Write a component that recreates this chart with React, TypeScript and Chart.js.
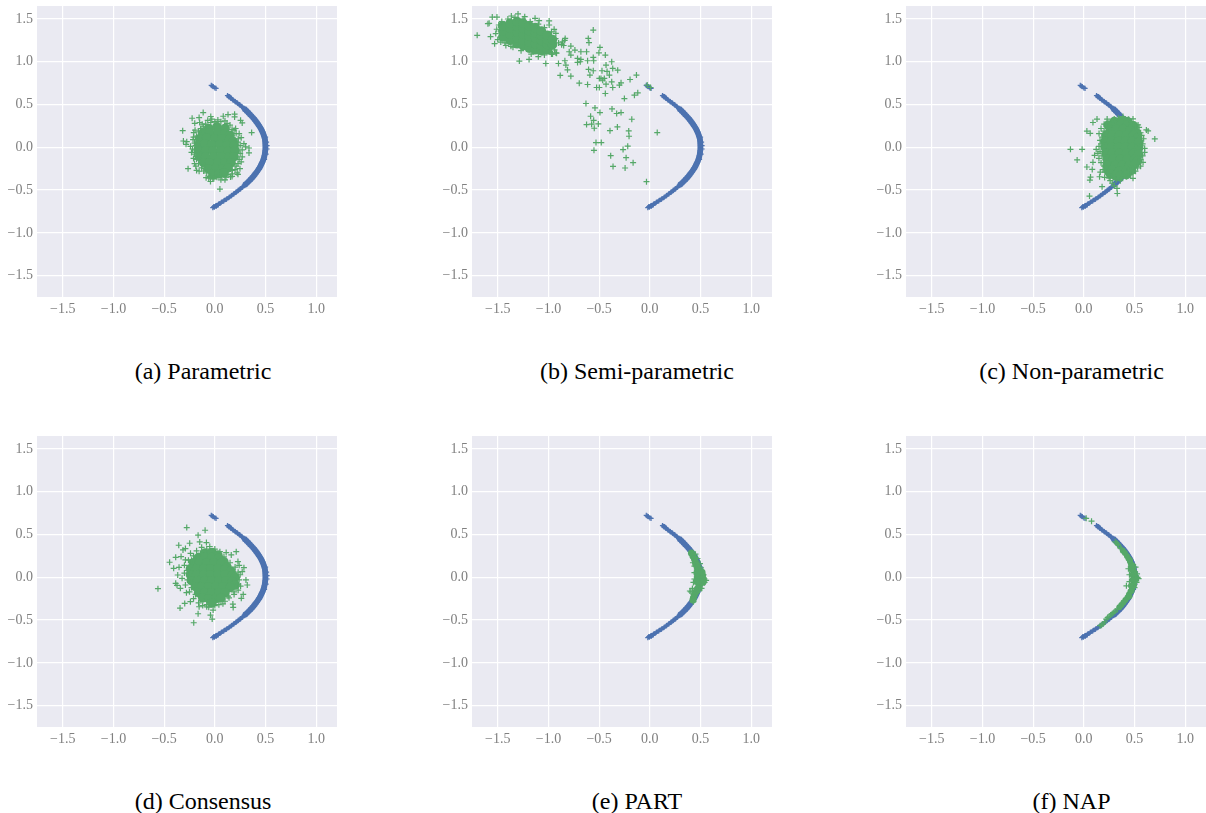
import React, { useEffect, useRef } from "react";
import { Chart, registerables } from "chart.js";

Chart.register(...registerables);

type P = [number, number];

const xTickValues = [-1.5, -1.0, -0.5, 0.0, 0.5, 1.0];
const yTickValues = [-1.5, -1.0, -0.5, 0.0, 0.5, 1.0, 1.5];

const arcBand: P[] = [
  [0.135,0.6],[0.15,0.585],[0.168,0.565],[0.19,0.545],[0.212,0.525],[0.235,0.505],[0.256,0.485],[0.276,0.465],[0.296,0.445],[0.314,0.425],
  [0.331,0.405],[0.347,0.385],[0.363,0.365],[0.378,0.345],[0.392,0.325],[0.405,0.305],[0.418,0.285],[0.43,0.265],[0.441,0.245],[0.451,0.225],
  [0.46,0.205],[0.468,0.185],[0.476,0.165],[0.482,0.145],[0.487,0.125],[0.492,0.105],[0.495,0.085],[0.497,0.065],[0.498,0.045],[0.499,0.025],
  [0.499,0.005],[0.499,-0.015],[0.498,-0.035],[0.496,-0.055],[0.493,-0.075],[0.49,-0.095],[0.486,-0.115],[0.481,-0.135],[0.475,-0.155],[0.468,-0.175],
  [0.46,-0.195],[0.452,-0.215],[0.443,-0.235],[0.432,-0.255],[0.421,-0.275],[0.409,-0.295],[0.396,-0.315],[0.383,-0.335],[0.368,-0.355],[0.352,-0.375],
  [0.336,-0.395],[0.319,-0.415],[0.301,-0.435],[0.283,-0.455],[0.262,-0.475],[0.242,-0.495],[0.221,-0.515],[0.199,-0.535],[0.176,-0.555],[0.153,-0.575],
  [0.128,-0.595],[0.103,-0.615],[0.076,-0.635],[0.05,-0.655],[0.022,-0.675],[0.005,-0.69],
];
const arcCrosses: P[] = [
  [-0.035,0.725],[-0.025,0.715],[-0.015,0.71],[0.0,0.695],[0.012,0.69],[0.125,0.605],[0.14,0.59],
  [0.515,0.02],[0.515,-0.02],[0.51,0.06],[0.505,-0.08],[0.5,0.12],[0.49,-0.14],
  [-0.02,-0.705],[-0.012,-0.695],[-0.005,-0.7],[0.015,-0.688],[0.03,-0.68],
];

const aCore: P[] = [
  [-0.06,0.22],[0.02,0.24],[0.1,0.22],
  [-0.12,0.16],[-0.05,0.17],[0.03,0.17],[0.1,0.16],[0.15,0.14],
  [-0.15,0.1],[-0.08,0.11],[0.0,0.1],[0.07,0.1],[0.14,0.09],[0.18,0.07],
  [-0.16,0.03],[-0.1,0.04],[-0.03,0.03],[0.05,0.03],[0.12,0.02],[0.19,0.02],
  [-0.16,-0.04],[-0.09,-0.04],[-0.02,-0.04],[0.06,-0.04],[0.13,-0.05],[0.2,-0.04],
  [-0.15,-0.11],[-0.09,-0.11],[-0.01,-0.11],[0.06,-0.11],[0.14,-0.11],[0.19,-0.11],
  [-0.11,-0.18],[-0.05,-0.18],[0.03,-0.18],[0.1,-0.18],[0.16,-0.18],
  [-0.06,-0.25],[0.01,-0.25],[0.08,-0.25],[0.13,-0.24],
  [-0.02,-0.31],[0.04,-0.31],[0.09,-0.3],
];
const aScatter: P[] = [
  [-0.115,0.406],[-0.224,0.34],[-0.155,0.348],[-0.198,0.28],[-0.07,0.316],[-0.125,0.27],[-0.317,0.195],[-0.195,0.2],[-0.208,0.172],[-0.31,0.074],
  [-0.277,0.066],[-0.284,0.035],[-0.24,0.012],[-0.215,0.09],[-0.2,-0.19],[-0.188,-0.22],[-0.264,-0.25],[-0.155,-0.28],[-0.11,-0.277],[-0.086,-0.355],
  [-0.043,-0.4],[-0.01,-0.367],[0.05,-0.488],[0.1,-0.38],[0.13,0.383],[0.083,0.363],[0.195,0.387],[0.195,0.355],[0.254,0.316],[0.27,0.285],
  [0.363,0.172],[0.205,0.22],[0.287,0.043],[0.337,-0.008],[0.337,-0.066],[0.304,0.004],[0.26,0.113],[0.27,-0.113],[0.228,-0.19],[0.228,-0.316],
  [0.248,-0.25],[0.172,-0.31],[0.155,-0.347],[-0.09,0.27],[-0.14,0.22],[-0.18,0.13],[-0.2,0.05],[-0.22,-0.02],[-0.2,-0.08],[-0.21,-0.13],
  [-0.16,-0.19],[-0.13,-0.24],[-0.08,-0.3],[-0.05,-0.34],[0.02,-0.35],[0.07,-0.34],[0.13,-0.32],[0.2,-0.26],[0.24,-0.14],[0.25,-0.07],
  [0.25,0.02],[0.23,0.1],[0.21,0.16],[0.17,0.21],[0.12,0.28],[0.06,0.3],[0.0,0.3],[-0.04,0.29],
  [-0.03,0.33],[0.03,0.32],[0.1,0.31],[0.15,0.26],[0.19,0.2],[0.24,0.16],[0.23,0.06],[0.27,-0.03],[0.26,-0.17],[0.21,-0.22],
  [0.17,-0.27],[0.11,-0.35],[-0.02,-0.37],[-0.1,-0.25],[-0.18,-0.14],[-0.23,-0.06],[-0.2,-0.03],[-0.19,0.02],[-0.21,0.12],[-0.16,0.18],
  [-0.11,0.24],[-0.15,0.29],[-0.04,0.36],[-0.18,-0.27],[-0.06,-0.36],[0.06,-0.38],[0.17,-0.34],[0.22,-0.3],
];

const bCore: P[] = [
  [-1.45,1.29],[-1.45,1.36],[-1.45,1.42],
  [-1.38,1.25],[-1.38,1.32],[-1.38,1.39],[-1.38,1.45],
  [-1.31,1.21],[-1.31,1.28],[-1.31,1.35],[-1.31,1.41],[-1.31,1.47],
  [-1.25,1.19],[-1.25,1.25],[-1.25,1.32],[-1.25,1.39],[-1.25,1.45],
  [-1.19,1.16],[-1.19,1.23],[-1.19,1.3],[-1.19,1.36],[-1.19,1.42],
  [-1.13,1.14],[-1.13,1.21],[-1.13,1.28],[-1.13,1.34],[-1.13,1.4],
  [-1.07,1.13],[-1.07,1.19],[-1.07,1.25],[-1.07,1.31],[-1.07,1.36],
  [-1.01,1.14],[-1.01,1.2],[-1.01,1.26],[-1.01,1.31],
  [-0.96,1.2],[-0.96,1.26],
];
const bScatter: P[] = [
  [-1.703,1.309],[-1.597,1.445],[-1.585,1.45],[-1.554,1.523],[-1.508,1.523],[-1.571,1.293],[-1.531,1.211],[-1.3,1.559],[-1.366,1.535],[-1.234,1.527],
  [-1.132,1.508],[-1.092,1.48],[-0.993,1.477],[-0.993,1.43],[-0.944,1.379],[-0.927,1.332],[-1.287,1.008],[-1.191,1.027],[-1.026,0.98],[-0.901,0.98],
  [-0.838,1.012],[-0.927,1.105],[-0.835,1.273],[-0.861,1.234],[-0.779,1.184],[-0.739,1.137],[-0.795,1.117],[-0.779,1.078],[-0.68,1.117],[-0.624,1.117],
  [-0.607,1.273],[-0.6,1.223],[-0.558,1.371],[-0.492,1.168],[-0.502,1.105],[-0.439,1.078],[-0.558,1.051],[-0.554,1.012],[-0.713,1.039],[-0.68,1.027],
  [-0.713,0.992],[-0.686,1.0],[-0.614,1.012],[-0.828,0.961],[-0.812,0.906],[-0.884,0.84],[-0.779,0.832],[-0.604,0.91],[-0.558,0.895],[-0.591,0.844],
  [-0.696,0.75],[-0.614,0.734],[-0.472,0.895],[-0.432,0.961],[-0.422,0.887],[-0.376,1.0],[-0.366,0.922],[-0.399,0.844],[-0.317,0.902],[-0.498,0.805],
  [-0.482,0.805],[-0.449,0.805],[-0.465,0.785],[-0.498,0.699],[-0.525,0.699],[-0.432,0.738],[-0.376,0.766],[-0.366,0.699],[-0.284,0.754],[-0.3,0.727],
  [-0.195,0.793],[-0.132,0.844],[-0.026,0.727],[0.007,0.699],[-0.119,0.637],[-0.152,0.609],[-0.251,0.57],[-0.439,0.629],[-0.63,0.512],[-0.541,0.461],
  [-0.492,0.406],[-0.373,0.449],[-0.327,0.395],[-0.284,0.406],[-0.178,0.328],[-0.584,0.363],[-0.554,0.316],[-0.574,0.27],[-0.624,0.266],[-0.508,0.273],
  [-0.548,0.223],[-0.393,0.195],[-0.32,0.238],[-0.208,0.191],[-0.205,0.129],[0.073,0.172],[-0.531,0.055],[-0.479,0.055],[-0.551,-0.035],[-0.218,0.013],
  [-0.264,-0.026],[-0.386,-0.098],[-0.234,-0.121],[-0.165,-0.18],[-0.363,-0.223],[-0.244,-0.242],[-0.033,-0.402],
  [-1.49,1.43],[-1.46,1.47],[-1.4,1.5],[-1.33,1.52],[-1.25,1.5],[-1.18,1.47],[-1.1,1.44],[-1.04,1.4],[-0.97,1.35],[-0.93,1.27],
  [-0.9,1.22],[-0.87,1.2],[-0.84,1.25],[-0.85,1.19],[-0.94,1.14],[-0.97,1.09],[-1.04,1.08],[-1.1,1.06],[-1.17,1.09],[-1.27,1.13],
  [-1.35,1.17],[-1.42,1.19],[-1.5,1.26],[-1.52,1.33],[-1.51,1.38],[-1.47,1.23],[-1.43,1.22],[-1.37,1.18],[-0.92,1.1],[-0.96,1.09],
];

const cCore: P[] = [
  [0.3,0.3],[0.37,0.31],[0.43,0.3],
  [0.24,0.26],[0.3,0.26],[0.37,0.27],[0.43,0.26],[0.49,0.25],
  [0.26,0.2],[0.32,0.21],[0.39,0.21],[0.46,0.2],[0.51,0.18],
  [0.22,0.14],[0.28,0.14],[0.35,0.14],[0.42,0.14],[0.49,0.14],[0.53,0.11],
  [0.21,0.07],[0.27,0.07],[0.34,0.07],[0.41,0.07],[0.48,0.07],[0.54,0.06],
  [0.21,0.0],[0.27,0.0],[0.34,0.0],[0.41,0.0],[0.48,0.0],[0.54,-0.01],
  [0.22,-0.07],[0.28,-0.07],[0.35,-0.07],[0.42,-0.07],[0.49,-0.07],[0.54,-0.08],
  [0.23,-0.14],[0.29,-0.14],[0.36,-0.14],[0.43,-0.14],[0.5,-0.14],[0.53,-0.16],
  [0.23,-0.21],[0.31,-0.21],[0.38,-0.21],[0.45,-0.21],[0.5,-0.2],
  [0.24,-0.27],[0.28,-0.27],[0.35,-0.28],[0.42,-0.27],[0.47,-0.27],
  [0.26,-0.31],[0.31,-0.33],[0.36,-0.33],[0.42,-0.32],
];
const cScatter: P[] = [
  [0.09,0.29],[0.13,0.33],[0.23,0.33],[0.03,0.19],[0.063,0.164],[-0.132,-0.023],[-0.017,-0.023],[-0.066,-0.148],[0.122,-0.023],[0.139,-0.07],
  [0.106,-0.094],[0.149,-0.13],[0.09,-0.176],[0.03,-0.23],[0.083,-0.258],[0.066,-0.348],[0.06,-0.383],[0.155,-0.344],[0.162,-0.289],[0.205,-0.352],
  [0.18,-0.46],[0.056,-0.57],[0.327,-0.48],[0.33,-0.54],[0.485,-0.363],[0.462,-0.324],[0.584,-0.176],[0.6,-0.012],[0.7,0.098],[0.617,0.203],
  [0.634,0.191],[0.535,0.262],[0.545,0.234],[0.485,0.332],[0.442,0.328],[0.386,0.36],[0.17,0.22],[0.15,0.16],[0.16,0.08],[0.15,0.01],
  [0.16,-0.05],[0.17,-0.18],[0.19,-0.26],[0.25,-0.3],[0.25,-0.36],[0.28,-0.42],[0.36,-0.39],[0.42,-0.34],[0.51,-0.28],[0.56,-0.22],
  [0.58,-0.1],[0.6,-0.06],[0.58,0.04],[0.59,0.1],[0.56,0.17],[0.3,0.33],[0.34,0.34],[0.27,0.28],[0.2,0.27],
  [0.4,0.33],[0.47,0.3],[0.51,0.25],[0.57,0.14],[0.56,0.02],[0.56,-0.14],[0.53,-0.24],[0.46,-0.27],[0.39,-0.33],[0.32,-0.38],
  [0.29,-0.35],[0.21,-0.29],[0.2,-0.22],[0.18,-0.1],[0.17,0.04],[0.18,0.12],[0.2,0.19],[0.24,0.24],[0.3,-0.45],[0.26,-0.39],
];

const dCore: P[] = [
  [-0.1,0.28],[-0.03,0.29],[0.03,0.26],
  [-0.16,0.23],[-0.1,0.23],[-0.03,0.23],[0.04,0.22],[0.09,0.18],
  [-0.21,0.17],[-0.15,0.17],[-0.08,0.17],[-0.01,0.17],[0.06,0.16],[0.12,0.12],
  [-0.24,0.1],[-0.18,0.1],[-0.11,0.1],[-0.04,0.1],[0.03,0.1],[0.1,0.09],[0.16,0.07],
  [-0.24,0.03],[-0.18,0.03],[-0.11,0.03],[-0.04,0.03],[0.03,0.03],[0.1,0.03],[0.17,0.02],[0.2,0.0],
  [-0.23,-0.04],[-0.17,-0.04],[-0.1,-0.04],[-0.03,-0.04],[0.04,-0.04],[0.11,-0.04],[0.17,-0.05],[0.2,-0.09],
  [-0.19,-0.11],[-0.13,-0.11],[-0.06,-0.11],[0.01,-0.11],[0.08,-0.11],[0.15,-0.12],
  [-0.16,-0.18],[-0.1,-0.18],[-0.03,-0.18],[0.04,-0.18],[0.1,-0.18],
  [-0.12,-0.24],[-0.06,-0.25],[0.01,-0.25],[0.06,-0.24],[-0.03,-0.3],
];
const dScatter: P[] = [
  [-0.277,0.582],[-0.096,0.55],[-0.165,0.492],[-0.356,0.375],[-0.248,0.398],[-0.314,0.32],[-0.29,0.336],[-0.149,0.414],[-0.083,0.406],[-0.446,0.176],
  [-0.386,0.234],[-0.333,0.242],[-0.29,0.203],[-0.406,0.105],[-0.353,0.117],[-0.366,0.027],[-0.323,-0.012],[-0.386,-0.07],[-0.373,-0.094],[-0.561,-0.133],
  [-0.34,-0.129],[-0.28,-0.18],[-0.297,-0.305],[-0.343,-0.36],[-0.241,-0.285],[-0.208,-0.531],[-0.165,-0.426],[-0.155,-0.344],[-0.08,-0.345],[-0.043,-0.441],
  [-0.026,-0.488],[-0.017,-0.383],[0.178,-0.313],[0.181,-0.352],[0.261,-0.246],[0.28,-0.2],[0.32,-0.09],[0.307,-0.031],[0.254,-0.102],[0.27,0.066],
  [0.287,0.113],[0.228,0.184],[0.211,0.3],[0.162,0.262],[0.112,0.289],[0.24,0.14],[0.25,0.03],[0.24,-0.03],[0.23,-0.15],[0.19,-0.2],
  [0.14,-0.24],[0.1,-0.28],[0.04,-0.32],[-0.08,-0.32],[-0.16,-0.3],[-0.21,-0.25],[-0.25,-0.17],[-0.29,-0.09],[-0.3,0.05],[-0.3,0.14],
  [-0.26,0.2],[-0.24,0.28],[-0.18,0.31],[-0.13,0.35],[-0.05,0.36],[0.05,0.3],
  [0.0,0.33],[0.09,0.24],[0.15,0.17],[0.2,0.12],[0.23,0.06],[0.23,-0.08],[0.19,-0.17],[0.13,-0.22],[0.08,-0.31],[0.0,-0.33],
  [-0.06,-0.35],[-0.12,-0.33],[-0.19,-0.2],[-0.23,-0.12],[-0.27,-0.03],[-0.27,0.08],[-0.23,0.2],[-0.21,0.25],[-0.14,0.28],[-0.08,0.33],
];

const eCore: P[] = [
  [0.41,0.285],[0.425,0.25],[0.44,0.215],[0.45,0.18],[0.46,0.145],[0.47,0.11],[0.485,0.075],[0.49,0.04],[0.495,0.005],[0.5,-0.03],
  [0.5,-0.065],[0.485,-0.1],[0.47,-0.135],[0.455,-0.17],[0.44,-0.205],[0.43,-0.24],[0.425,-0.265],
  [0.47,0.0],[0.465,0.05],[0.46,-0.05],[0.525,-0.02],[0.52,0.02],[0.515,0.06],[0.525,-0.055],
];
const eScatter: P[] = [
  [0.555,-0.035],[0.54,-0.02],[0.54,-0.06],[0.53,0.03],[0.515,-0.09],[0.51,-0.13],[0.49,-0.15],[0.44,0.055],[0.44,-0.02],[0.43,-0.06],
  [0.395,-0.16],[0.405,-0.17],[0.42,-0.13],[0.43,-0.285],[0.44,0.13],[0.425,0.17],[0.505,0.11],[0.495,0.16],[0.47,0.22],[0.45,0.27],
];

const fCore: P[] = [
  [0.385,0.31],[0.405,0.285],[0.425,0.25],[0.44,0.22],[0.455,0.185],[0.465,0.15],[0.475,0.115],[0.485,0.08],[0.49,0.045],
  [0.493,0.01],[0.493,-0.025],[0.49,-0.06],[0.483,-0.095],[0.475,-0.13],[0.46,-0.165],[0.445,-0.2],[0.43,-0.235],[0.41,-0.265],[0.39,-0.295],
  [0.37,-0.325],[0.35,-0.35],
  [0.505,0.01],[0.505,-0.04],[0.5,0.06],[0.495,-0.09],[0.48,0.03],[0.48,-0.03],[0.47,0.09],[0.465,-0.1],[0.48,0.14],[0.47,-0.16],[0.455,0.2],[0.45,-0.22],
];
const fScatter: P[] = [
  [0.023,0.69],[0.076,0.656],[0.31,0.415],[0.325,0.4],[0.335,0.385],[0.34,0.375],[0.36,0.345],[0.37,0.335],[0.53,0.0],[0.54,-0.015],
  [0.525,0.04],[0.52,-0.06],[0.51,0.12],[0.5,-0.12],[0.45,0.03],[0.45,-0.05],[0.44,0.1],[0.42,-0.1],[0.33,-0.375],[0.31,-0.395],
  [0.295,-0.41],[0.28,-0.425],[0.265,-0.44],[0.25,-0.455],[0.235,-0.47],[0.22,-0.49],[0.205,-0.52],[0.19,-0.545],[0.175,-0.56],[0.16,-0.565],
];

const captions = ["(a) Parametric", "(b) Semi-parametric", "(c) Non-parametric", "(d) Consensus", "(e) PART", "(f) NAP"];
const panelLefts = [0, 435, 869];
const panelTops = [0, 430];
const captionCentres = [203, 637, 1071.5];
const captionTops = [357, 787];

const BLUE = "#4C72B0";
const GREEN = "#55A868";
const toXY = (pts: P[]) => pts.map(([x, y]) => ({ x, y }));
const fmt = (v: number) => (v < 0 ? "\u2212" : "") + Math.abs(v).toFixed(1);

const panelBackground = {
  id: "panelBackground",
  beforeDraw(chart: any) {
    const { ctx, chartArea: a } = chart;
    ctx.save();
    ctx.fillStyle = "#EAEAF2";
    ctx.fillRect(a.left, a.top, a.width, a.height);
    ctx.restore();
  },
};

function Panel({ core, scatter, coreR, left, top }: { core: P[]; scatter: P[]; coreR: number; left: number; top: number }) {
  const ref = useRef<HTMLCanvasElement>(null);
  useEffect(() => {
    const tickFont = { family: "'Liberation Serif', serif", size: 14 };
    const chart = new Chart(ref.current as HTMLCanvasElement, {
      type: "scatter",
      plugins: [panelBackground],
      data: {
        datasets: [
          { data: toXY(scatter), pointStyle: "cross", pointRadius: 3, borderColor: GREEN, borderWidth: 1.2, backgroundColor: GREEN },
          { data: toXY(core), pointStyle: "circle", pointRadius: coreR, borderWidth: 0, backgroundColor: GREEN, borderColor: GREEN },
          { data: toXY(arcCrosses), pointStyle: "cross", pointRadius: 2.6, borderColor: BLUE, borderWidth: 1.2, backgroundColor: BLUE },
          {
            data: toXY(arcBand),
            pointStyle: "circle",
            pointRadius: (c: any) => (Math.abs(c.raw?.y ?? 0) > 0.45 ? 2.3 : 2.9),
            borderWidth: 0,
            backgroundColor: BLUE,
            borderColor: BLUE,
          },
        ],
      } as any,
      options: {
        animation: false,
        responsive: false,
        events: [],
        layout: { padding: { top: 6, right: 8, left: 0, bottom: 0 } },
        plugins: { legend: { display: false }, tooltip: { enabled: false } },
        scales: {
          x: {
            type: "linear",
            min: -1.754,
            max: 1.205,
            border: { display: false },
            grid: { color: "#FFFFFF", lineWidth: 1.2, drawTicks: false },
            afterBuildTicks: (axis: any) => { axis.ticks = xTickValues.map((value) => ({ value })); },
            afterFit: (axis: any) => { axis.height = 24; axis.paddingLeft = 0; axis.paddingRight = 0; },
            ticks: { color: "#808080", font: tickFont, padding: 4, maxRotation: 0, autoSkip: false, callback: (v: any) => fmt(Number(v)) },
          },
          y: {
            type: "linear",
            min: -1.75,
            max: 1.652,
            border: { display: false },
            grid: { color: "#FFFFFF", lineWidth: 1.2, drawTicks: false },
            afterBuildTicks: (axis: any) => { axis.ticks = yTickValues.map((value) => ({ value })); },
            afterFit: (axis: any) => { axis.width = 37; axis.paddingTop = 0; axis.paddingBottom = 0; },
            ticks: { color: "#808080", font: tickFont, padding: 4, autoSkip: false, callback: (v: any) => fmt(Number(v)) },
          },
        },
      } as any,
    });
    return () => chart.destroy();
  }, []);
  return (
    <canvas
      ref={ref}
      width={345}
      height={321}
      style={{ position: "absolute", left, top, width: 345, height: 321, display: "block" }}
    />
  );
}

const panels: { core: P[]; scatter: P[]; coreR: number }[] = [
  { core: aCore, scatter: aScatter, coreR: 4.8 },
  { core: bCore, scatter: bScatter, coreR: 4.8 },
  { core: cCore, scatter: cScatter, coreR: 4.8 },
  { core: dCore, scatter: dScatter, coreR: 4.8 },
  { core: eCore, scatter: eScatter, coreR: 3.5 },
  { core: fCore, scatter: fScatter, coreR: 3 },
];

export default function App() {
  return (
    <div style={{ position: "absolute", left: 0, top: 0, width: 1206, height: 813, overflow: "hidden", background: "#fff" }}>
      {panels.map((p, i) => (
        <Panel key={i} core={p.core} scatter={p.scatter} coreR={p.coreR} left={panelLefts[i % 3]} top={panelTops[Math.floor(i / 3)]} />
      ))}
      {captions.map((c, i) => (
        <div
          key={c}
          style={{
            position: "absolute",
            left: captionCentres[i % 3] - 200,
            width: 400,
            top: captionTops[Math.floor(i / 3)],
            textAlign: "center",
            fontFamily: "'Liberation Serif', serif",
            fontSize: 24,
            lineHeight: "28px",
            color: "#000",
          }}
        >
          {c}
        </div>
      ))}
    </div>
  );
}
